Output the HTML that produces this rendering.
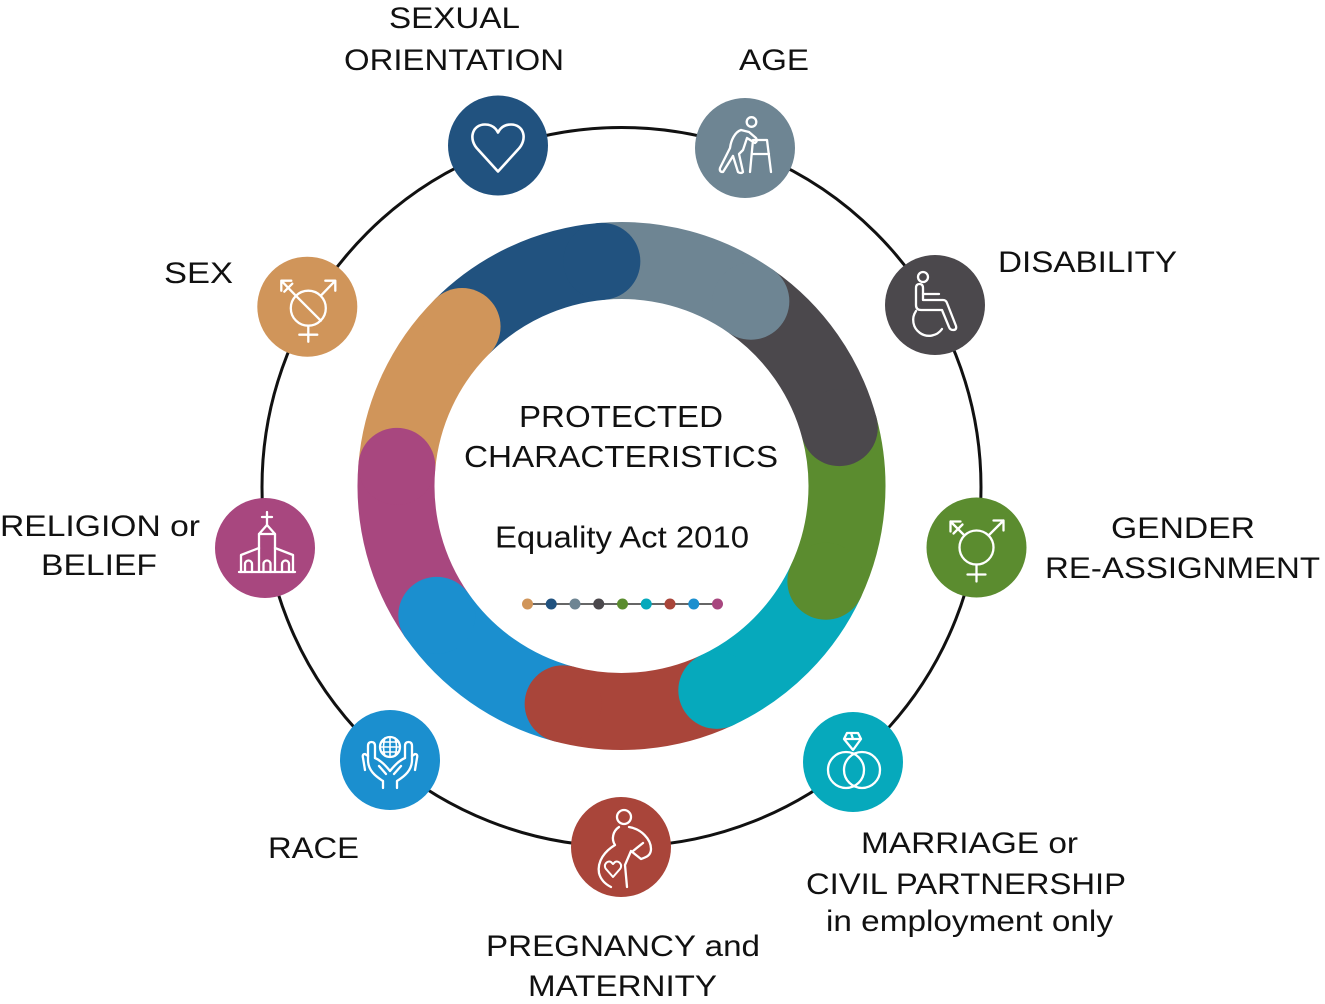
<!DOCTYPE html>
<html>
<head>
<meta charset="utf-8">
<style>
  html, body { margin:0; padding:0; background:#fff; }
  svg { display:block; }
  text { font-family: "Liberation Sans", Arial, sans-serif; fill:#111; }
</style>
</head>
<body>
<svg width="1325" height="1004" viewBox="0 0 1325 1004" xmlns="http://www.w3.org/2000/svg">
  <rect width="1325" height="1004" fill="#fff"/>

  <!-- outer thin circle -->
  <circle cx="621.5" cy="487" r="359.5" fill="none" stroke="#111" stroke-width="3"/>

  <!-- inner coloured ring: arcs -->
  <g fill="none" stroke-width="77" stroke-linecap="butt">
    <path d="M462.05,326.55 A225.5,225.5 0 0 1 601.85,261.36" stroke="#21527f"/>
    <path d="M601.85,261.36 A225.5,225.5 0 0 1 750.84,301.28" stroke="#6e8593"/>
    <path d="M750.84,301.28 A225.5,225.5 0 0 1 839.32,427.64" stroke="#4b484c"/>
    <path d="M839.32,427.64 A225.5,225.5 0 0 1 825.87,581.30" stroke="#5b8c2f"/>
    <path d="M825.87,581.30 A225.5,225.5 0 0 1 716.80,690.37" stroke="#06a9bc"/>
    <path d="M716.80,690.37 A225.5,225.5 0 0 1 563.14,703.82" stroke="#a9453a"/>
    <path d="M563.14,703.82 A225.5,225.5 0 0 1 436.78,615.34" stroke="#1b8fcf"/>
    <path d="M436.78,615.34 A225.5,225.5 0 0 1 396.86,466.35" stroke="#a8477f"/>
    <path d="M396.86,466.35 A225.5,225.5 0 0 1 462.05,326.55" stroke="#d0955a"/>
  </g>
  <!-- rounded caps -->
  <g>
    <circle cx="601.85" cy="261.36" r="38.5" fill="#21527f"/>
    <circle cx="750.84" cy="301.28" r="38.5" fill="#6e8593"/>
    <circle cx="839.32" cy="427.64" r="38.5" fill="#4b484c"/>
    <circle cx="825.87" cy="581.30" r="38.5" fill="#5b8c2f"/>
    <circle cx="716.80" cy="690.37" r="38.5" fill="#06a9bc"/>
    <circle cx="563.14" cy="703.82" r="38.5" fill="#a9453a"/>
    <circle cx="436.78" cy="615.34" r="38.5" fill="#1b8fcf"/>
    <circle cx="396.86" cy="466.35" r="38.5" fill="#a8477f"/>
    <circle cx="462.05" cy="326.55" r="38.5" fill="#d0955a"/>
  </g>

  <!-- centre text -->
  <text x="519" y="427" font-size="31" textLength="204" lengthAdjust="spacingAndGlyphs">PROTECTED</text>
  <text x="464" y="467" font-size="31" textLength="314" lengthAdjust="spacingAndGlyphs">CHARACTERISTICS</text>
  <text x="495" y="547.5" font-size="31" textLength="254" lengthAdjust="spacingAndGlyphs">Equality Act 2010</text>

  <!-- dots line -->
  <line x1="527.5" y1="604" x2="717.5" y2="604" stroke="#333" stroke-width="1.5"/>
  <g>
    <circle cx="527.5" cy="604" r="5.5" fill="#d0955a"/>
    <circle cx="551.25" cy="604" r="5.5" fill="#21527f"/>
    <circle cx="575" cy="604" r="5.5" fill="#6e8593"/>
    <circle cx="598.75" cy="604" r="5.5" fill="#4b484c"/>
    <circle cx="622.5" cy="604" r="5.5" fill="#5b8c2f"/>
    <circle cx="646.25" cy="604" r="5.5" fill="#06a9bc"/>
    <circle cx="670" cy="604" r="5.5" fill="#a9453a"/>
    <circle cx="693.75" cy="604" r="5.5" fill="#1b8fcf"/>
    <circle cx="717.5" cy="604" r="5.5" fill="#a8477f"/>
  </g>

  <!-- nodes -->
  <g>
    <circle cx="498" cy="145.5" r="50" fill="#21527f"/>
    <circle cx="745" cy="148" r="50" fill="#6e8593"/>
    <circle cx="935" cy="305" r="50" fill="#4b484c"/>
    <circle cx="976.5" cy="547.5" r="50" fill="#5b8c2f"/>
    <circle cx="853" cy="762" r="50" fill="#06a9bc"/>
    <circle cx="621" cy="847" r="50" fill="#a9453a"/>
    <circle cx="390" cy="760" r="50" fill="#1b8fcf"/>
    <circle cx="265" cy="548" r="50" fill="#a8477f"/>
    <circle cx="307.3" cy="306.7" r="50" fill="#d0955a"/>
  </g>

  <!-- icons -->
  <g fill="none" stroke="#fff" stroke-width="2.3" stroke-linecap="round" stroke-linejoin="round">
    <!-- heart -->
    <g transform="translate(498,145.5)">
      <path d="M0,26 L-20,4 C-30,-6 -26,-21 -13,-21 C-6,-21 -2,-17 0,-13 C2,-17 6,-21 13,-21 C26,-21 30,-6 20,4 Z" stroke-width="2.6"/>
    </g>
    <!-- age -->
    <g transform="translate(745,148)">
      <circle cx="6.5" cy="-26" r="4.8"/>
      <path d="M-4,-18 C-10,-16 -14,-8 -15,0 L-25,20 Q-26,24 -22,24 L-12,8"/>
      <path d="M-4,-18 L4,-16 L11,-10 Q13,-7 10,-5 L2,-10 L-2,2 L-6,6 L-2,24 Q-4,26 -7,24 L-12,8"/>
      <path d="M5,24 L8,-8 L22,-8 L26,24"/>
      <path d="M7,6 L24,6"/>
    </g>
    <!-- disability -->
    <g transform="translate(935,305)">
      <circle cx="-12" cy="-28" r="5"/>
      <path d="M-19,-17 Q-19,-21 -15.5,-21 Q-12,-21 -12,-17 L-12,-5 L8,-5 Q11,-5 12,-2 L21,21 Q22,25 18,25 Q15,25 14,22 L7,5 L-14,5 Q-19,5 -19,0 Z"/>
      <path d="M-12,-11 L4,-11"/>
      <path d="M-19,6 A15,15 0 0 0 7,24"/>
    </g>
    <!-- gender reassignment -->
    <g transform="translate(976.5,547.5)">
      <circle cx="0" cy="0" r="17"/>
      <path d="M0,17 L0,34 M-9,27 L9,27"/>
      <path d="M12,-12 L27,-27 M17,-27 L27,-27 L27,-17"/>
      <path d="M-12,-12 L-26,-26 M-26,-16 L-26,-26 L-16,-26 M-23,-14 L-14,-23"/>
    </g>
    <!-- sex -->
    <g transform="translate(307.3,306.7)">
      <circle cx="1" cy="1.5" r="17.5"/>
      <path d="M1,19 L1,35 M-8,28 L10,28"/>
      <path d="M13.5,-11 L28,-26 M18,-26 L28,-26 L28,-16"/>
      <path d="M-11.5,-11 L-26,-26 M-26,-16 L-26,-26 L-16,-26 M-23,-15 L-15,-23"/>
      <path d="M-11.5,-11 L13.5,14"/>
    </g>
    <!-- marriage -->
    <g transform="translate(853,762)">
      <circle cx="-7" cy="8" r="18"/>
      <circle cx="9" cy="8" r="18"/>
      <path d="M-6,-29 L5,-29 L8,-23 L0,-12 L-9,-23 Z M-9,-23 L8,-23 M-2,-29 L0,-23"/>
    </g>
    <!-- pregnancy -->
    <g transform="translate(621,847)">
      <circle cx="3" cy="-30" r="7"/>
      <path d="M-2,-20 C-8,-16 -10,-8 -6,-2 C-16,4 -24,14 -22,26 C-20,34 -14,38 -10,40"/>
      <path d="M8,-20 C20,-18 30,-8 30,2 C30,8 26,10 20,12 L10,4 L4,18 L6,40"/>
      <path d="M12,4 L22,-4"/>
      <path d="M-8,30 L-15,22 C-18,18 -14,13 -10,15 L-8,17 L-6,15 C-2,13 2,18 -1,22 Z" stroke-width="2"/>
    </g>
    <!-- race -->
    <g transform="translate(390,760)">
      <circle cx="0" cy="-13" r="10"/>
      <path d="M-10,-13 L10,-13 M-9,-18 L9,-18 M-9,-8 L9,-8 M0,-23 L0,-3 M-5,-22 Q-8,-13 -5,-4 M5,-22 Q8,-13 5,-4" stroke-width="1.6"/>
      <path d="M-7,28 L-7,21 C-15,16 -22,10 -22,0 L-22,-14 Q-22,-18 -18.5,-18 Q-15,-18 -15,-14 L-15,-2"/>
      <path d="M-22,-4 L-25,-6 Q-28,-6 -27,-2 L-25,10"/>
      <path d="M7,28 L7,21 C15,16 22,10 22,0 L22,-14 Q22,-18 18.5,-18 Q15,-18 15,-14 L15,-2"/>
      <path d="M22,-4 L25,-6 Q28,-6 27,-2 L25,10"/>
      <path d="M-15,-2 C-10,0 -4,6 0,11 C4,6 10,0 15,-2"/>
      <path d="M-11,6 L-4,14 M11,6 L4,14"/>
    </g>
    <!-- religion -->
    <g transform="translate(265,548)">
      <path d="M2,-36 L2,-23 M-3,-31 L7,-31"/>
      <path d="M-6,-14 L2,-23 L10,-14 Z"/>
      <path d="M-6,-14 L-6,24 M10,-14 L10,24"/>
      <path d="M-6,0 L-24,7 L-24,24 M10,0 L28,7 L28,24"/>
      <path d="M-26,24 L30,24"/>
      <path d="M-20,24 L-20,16 A3.5,3.5 0 0 1 -13,16 L-13,24"/>
      <path d="M-1.5,24 L-1.5,16 A3.5,3.5 0 0 1 5.5,16 L5.5,24"/>
      <path d="M17,24 L17,16 A3.5,3.5 0 0 1 24,16 L24,24"/>
    </g>
  </g>

  <!-- labels -->
  <g font-size="30">
    <text x="389" y="28" textLength="131" lengthAdjust="spacingAndGlyphs">SEXUAL</text>
    <text x="344" y="70" textLength="220" lengthAdjust="spacingAndGlyphs">ORIENTATION</text>
    <text x="739" y="70" textLength="70" lengthAdjust="spacingAndGlyphs">AGE</text>
    <text x="998" y="272" textLength="179" lengthAdjust="spacingAndGlyphs">DISABILITY</text>
    <text x="1111" y="538" textLength="144" lengthAdjust="spacingAndGlyphs">GENDER</text>
    <text x="1045" y="578" textLength="275" lengthAdjust="spacingAndGlyphs">RE-ASSIGNMENT</text>
    <text x="164" y="283" textLength="69" lengthAdjust="spacingAndGlyphs">SEX</text>
    <text x="0" y="536" textLength="200" lengthAdjust="spacingAndGlyphs">RELIGION or</text>
    <text x="41" y="575" textLength="116" lengthAdjust="spacingAndGlyphs">BELIEF</text>
    <text x="268" y="858" textLength="91" lengthAdjust="spacingAndGlyphs">RACE</text>
    <text x="486" y="956" textLength="274" lengthAdjust="spacingAndGlyphs">PREGNANCY and</text>
    <text x="528" y="996" textLength="189" lengthAdjust="spacingAndGlyphs">MATERNITY</text>
    <text x="861" y="853" textLength="217" lengthAdjust="spacingAndGlyphs">MARRIAGE or</text>
    <text x="806" y="894" textLength="320" lengthAdjust="spacingAndGlyphs">CIVIL PARTNERSHIP</text>
    <text x="826" y="931" textLength="287" lengthAdjust="spacingAndGlyphs">in employment only</text>
  </g>
</svg>
</body>
</html>
